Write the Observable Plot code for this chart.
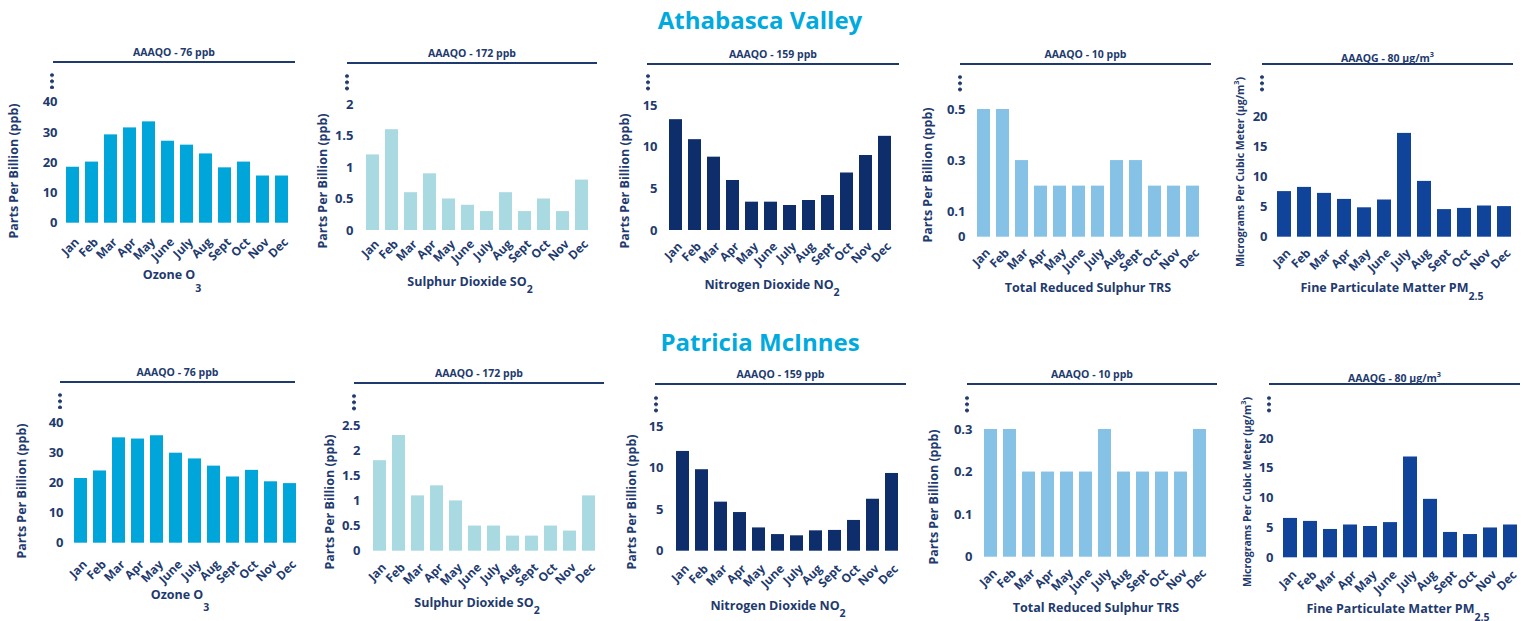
<!DOCTYPE html>
<html><head><meta charset="utf-8">
<script src="https://cdn.jsdelivr.net/npm/d3@7"></script>
<script src="https://cdn.jsdelivr.net/npm/@observablehq/plot@0.6"></script>
<style>
body{margin:0;width:1530px;height:621px;position:relative;background:#fff;font-family:"Open Sans",sans-serif;color:#1e3a6e;overflow:hidden}
.abs{position:absolute}
.title{font-size:24px;font-weight:700;color:#00a9de;white-space:nowrap;transform:translate(-50%,-50%);line-height:30px}
.hdr{font-size:10.5px;font-weight:700;text-align:center;border-bottom:2px solid #1e3a6e;height:16px;line-height:14px;white-space:nowrap}
.ytitle{font-weight:700;white-space:nowrap;transform:translate(-50%,-50%) rotate(-90deg);line-height:14px}
.xtitle{font-size:12.5px;font-weight:700;white-space:nowrap;transform:translateX(-50%);line-height:16px}
.xtitle .sb{position:relative;font-size:10.5px}
.dots{width:4px;background:radial-gradient(circle,#1e3a6e 1.6px,transparent 2.1px) repeat-y;background-size:4px 6.2px}
sup{font-size:70%;}
</style>
</head><body>
<script>
const months = ["Jan","Feb","Mar","Apr","May","June","July","Aug","Sept","Oct","Nov","Dec"];
const stations = ["Athabasca Valley","Patricia McInnes"];

// Athabasca Valley
const avOzone = [18.5,20.2,29.2,31.5,33.5,27.1,25.8,22.9,18.3,20.2,15.6,15.6];
const avSO2   = [1.2,1.6,0.6,0.9,0.5,0.4,0.3,0.6,0.3,0.5,0.3,0.8];
const avNO2   = [13.3,10.9,8.8,6.0,3.4,3.4,3.0,3.6,4.2,6.9,9.0,11.3];
const avTRS   = [0.5,0.5,0.3,0.2,0.2,0.2,0.2,0.3,0.3,0.2,0.2,0.2];
const avPM    = [7.6,8.3,7.3,6.3,4.9,6.2,17.3,9.3,4.6,4.8,5.2,5.1];
// Patricia McInnes
const pmOzone = [21.5,24.0,35.0,34.6,35.7,29.9,28.0,25.6,22.0,24.2,20.4,19.8];
const pmSO2   = [1.8,2.3,1.1,1.3,1.0,0.5,0.5,0.3,0.3,0.5,0.4,1.1];
const pmNO2   = [12.0,9.8,5.9,4.65,2.8,2.0,1.85,2.45,2.5,3.7,6.25,9.35];
const pmTRS   = [0.3,0.3,0.2,0.2,0.2,0.2,0.3,0.2,0.2,0.2,0.2,0.3];
const pmPM    = [6.6,6.1,4.75,5.5,5.25,5.9,16.9,9.8,4.25,3.9,5.0,5.5];

// tick values
const ozoneTicks = [0,10,20,30,40];
const so2TicksAV = [0,0.5,1,1.5,2];
const so2TicksPM = [0,0.5,1,1.5,2,2.5];
const no2Ticks   = [0,5,10,15];
const trsTicksAV = [0,0.1,0.3,0.5];
const trsTicksPM = [0,0.1,0.2,0.3];
const pmTicks    = [0,5,10,15,20];

// text
const headers = ["AAAQO - 76 ppb","AAAQO - 172 ppb","AAAQO - 159 ppb","AAAQO - 10 ppb","AAAQG - 80 µg/m<sup>3</sup>"];
const xTitles = ["Ozone O","Sulphur Dioxide SO","Nitrogen Dioxide NO","Total Reduced Sulphur TRS","Fine Particulate Matter PM"];
const xSubs = ["3","2","2","","2.5"];
const yTitles = ["Parts Per Billion (ppb)","Parts Per Billion (ppb)","Parts Per Billion (ppb)","Parts Per Billion (ppb)","Micrograms Per Cubic Meter (µg/m<sup>3</sup>)"];
const colors = ["#00a6d9","#a9d9e1","#0d2d6b","#86c2e6","#0f449a"];
const textColor = "#1e3a6e";

const seriesAV = [avOzone,avSO2,avNO2,avTRS,avPM];
const seriesPM = [pmOzone,pmSO2,pmNO2,pmTRS,pmPM];
const ticksAV = [ozoneTicks,so2TicksAV,no2Ticks,trsTicksAV,pmTicks];
const ticksPM = [ozoneTicks,so2TicksPM,no2Ticks,trsTicksPM,pmTicks];

// layout (page pixels)
const layout = [
 {x0:0,w:305,top:80,h:190,barsL:66,barsR:289,y0:222.7,yTop:101.7,tickRight:57,lab:14.6,lineL:53,lineR:295,lineY:61.7,dotX:52,dotY:72,dotH:17,ytx:14,yty:171,xtx:172,xty:275,sub:13},
 {x0:305,w:305,top:80,h:190,barsL:362,barsR:592,y0:230,yTop:104,tickRight:353,lab:9.3,lineL:347,lineR:597,lineY:62.7,dotX:347,dotY:73,dotH:18,ytx:323,yty:181,xtx:470,xty:282,sub:7},
 {x0:610,w:305,top:80,h:190,barsL:667,barsR:894,y0:230,yTop:105,tickRight:657,lab:11.7,lineL:647,lineR:899,lineY:64,dotX:648,dotY:73,dotH:18,ytx:625,yty:181,xtx:772,xty:285,sub:7},
 {x0:915,w:305,top:80,h:190,barsL:975,barsR:1201,y0:236.7,yTop:109,tickRight:965,lab:11.3,lineL:960,lineR:1211,lineY:64,dotX:960,dotY:74,dotH:18,ytx:928,yty:175,xtx:1088,xty:288,sub:7},
 {x0:1220,w:310,top:80,h:190,barsL:1276,barsR:1512,y0:236.7,yTop:116.7,tickRight:1267,lab:11.6,lineL:1262,lineR:1513,lineY:64,dotX:1262,dotY:74,dotH:18,ytx:1238,yty:172,xtx:1392,xty:288,sub:8},
 {x0:0,w:305,top:400,h:190,barsL:72.7,barsR:296.7,y0:542.7,yTop:422.3,tickRight:63,lab:17,lineL:60,lineR:295,lineY:381.7,dotX:60,dotY:392,dotH:17,ytx:22,yty:491,xtx:180,xty:595,sub:12},
 {x0:305,w:305,top:400,h:190,barsL:369.3,barsR:599,y0:550.7,yTop:425,tickRight:360,lab:12,lineL:354,lineR:604,lineY:382.7,dotX:354,dotY:393,dotH:18,ytx:330,yty:502,xtx:477,xty:603,sub:7},
 {x0:610,w:305,top:400,h:190,barsL:673,barsR:901.7,y0:550.7,yTop:426,tickRight:663,lab:13.3,lineL:655,lineR:906,lineY:384,dotX:656,dotY:395,dotH:18,ytx:632,yty:502,xtx:778,xty:606,sub:7},
 {x0:915,w:305,top:400,h:190,barsL:981.7,barsR:1207.7,y0:556.7,yTop:429,tickRight:972,lab:11.6,lineL:967,lineR:1217,lineY:384,dotX:967,dotY:395,dotH:18,ytx:934,yty:497,xtx:1096,xty:608,sub:7},
 {x0:1220,w:310,top:400,h:190,barsL:1282.7,barsR:1518,y0:557.3,yTop:438,tickRight:1273,lab:12.7,lineL:1269,lineR:1520,lineY:384.3,dotX:1269,dotY:395,dotH:18,ytx:1245,yty:492,xtx:1398,xty:609,sub:8}
];
const titlePos = [{x:760,y:20},{x:760,y:342}];

function el(cls, style, html){
  const d = document.createElement("div");
  d.className = "abs " + cls;
  Object.assign(d.style, style);
  if (html !== undefined) d.innerHTML = html;
  document.body.appendChild(d);
  return d;
}

stations.forEach((s,i)=> el("title",{left:titlePos[i].x+"px",top:titlePos[i].y+"px"}, s));

function panel(idx, values, ticks, k){
  const c = layout[idx];
  const pad = 0.3;
  const step = (c.barsR - c.barsL)/(12 - pad);
  const L = c.barsL - pad*step, R = c.barsR + pad*step;
  const data = months.map((m,i)=>({month:m, value:values[i]}));
  const chart = Plot.plot({
    width:c.w, height:c.h,
    marginLeft:L - c.x0, marginRight:c.x0 + c.w - R,
    marginTop:c.yTop - c.top, marginBottom:c.top + c.h - c.y0,
    style:{fontFamily:"Open Sans", fontWeight:700, color:textColor, background:"transparent", overflow:"visible", fontSize:"12px"},
    x:{domain:months, padding:pad, label:null, axis:null},
    y:{domain:[0, d3.max(ticks)], label:null},
    marks:[
      Plot.barY(data,{x:"month", y:"value", fill:colors[k]}),
      Plot.axisY({ticks:ticks, tickFormat:d=>String(d), tickSize:0, tickPadding:Math.max(1, L - c.tickRight), fontSize:13, label:null}),
      Plot.text(months,{x:d=>d, frameAnchor:"bottom", rotate:-45, textAnchor:"end", lineAnchor:"middle", dx:4.2, dy:c.lab + 2.3, fontSize:12, fill:textColor})
    ]
  });
  chart.style.position = "absolute";
  chart.style.left = c.x0 + "px";
  chart.style.top = c.top + "px";
  document.body.appendChild(chart);

  el("hdr",{left:c.lineL+"px",top:(c.lineY-17)+"px",width:(c.lineR-c.lineL)+"px"}, headers[k]);
  el("dots",{left:(c.dotX-2)+"px",top:c.dotY+"px",height:c.dotH+"px"});
  el("ytitle",{left:c.ytx+"px",top:c.yty+"px",fontSize:(k===4?"10.5px":"12.5px")}, yTitles[k]);
  el("xtitle",{left:c.xtx+"px",top:(c.xty-8)+"px"}, xTitles[k] + (xSubs[k] ? `<span class="sb" style="top:${c.sub}px">${xSubs[k]}</span>` : ""));
}

seriesAV.forEach((v,k)=>panel(k, v, ticksAV[k], k));
seriesPM.forEach((v,k)=>panel(k+5, v, ticksPM[k], k));
</script>
</body></html>
